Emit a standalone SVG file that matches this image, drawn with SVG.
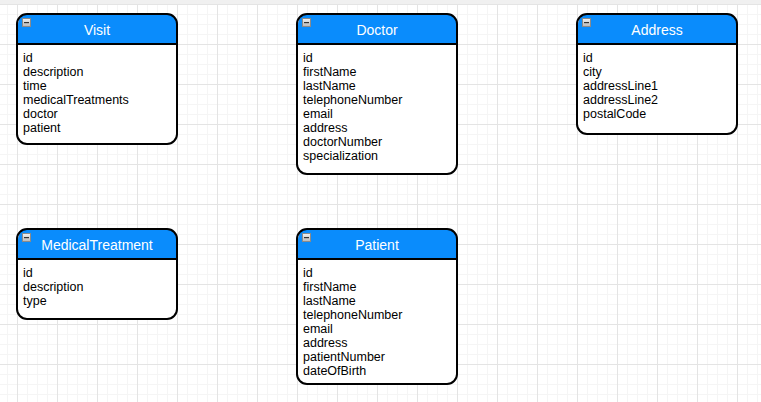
<svg xmlns="http://www.w3.org/2000/svg" width="761" height="402" viewBox="0 0 761 402">
<defs>
<pattern id="minor" x="7" y="4" width="10" height="10" patternUnits="userSpaceOnUse">
<path d="M0.5 0V10M0 0.5H10" stroke="#f5f5f5" stroke-width="1" fill="none"/>
</pattern>
<pattern id="major" x="17" y="4" width="40" height="40" patternUnits="userSpaceOnUse">
<path d="M0.5 0V40M0 0.5H40" stroke="#e4e4e4" stroke-width="1" fill="none"/>
</pattern>
<linearGradient id="btn" x1="0" y1="0" x2="0" y2="1">
<stop offset="0" stop-color="#f4f4f4"/>
<stop offset="1" stop-color="#b8b8b8"/>
</linearGradient>
<g id="minus">
<rect x="0.5" y="0.5" width="8" height="8" fill="url(#btn)" stroke="#8a8a8a" stroke-width="1"/>
<rect x="2" y="4" width="5" height="1.2" fill="#333"/>
</g>
</defs>
<style>
.box{fill:none;stroke:#000;stroke-width:2}
.hdr{fill:#0a8cfc}
.title{font-family:"Liberation Sans",Arial,sans-serif;font-size:14px;fill:#ffffff;text-anchor:middle}
.item{font-family:"Liberation Sans",Arial,sans-serif;font-size:12.5px;fill:#000}
.sep{stroke:#000;stroke-width:2}
</style>
<rect width="761" height="402" fill="#ffffff"/>
<rect width="761" height="402" fill="url(#minor)"/>
<rect width="761" height="402" fill="url(#major)"/>
<rect width="761" height="4" fill="#f0f0f0"/>
<g id="connectors"></g>

<g id="visit">
<rect x="17" y="14" width="160" height="130" rx="10" fill="#ffffff"/>
<path class="hdr" d="M18 44V24a10 10 0 0 1 10-10h139a10 10 0 0 1 10 10v20z"/>
<rect class="box" x="17" y="14" width="160" height="130" rx="10"/>
<line class="sep" x1="17" y1="44" x2="177" y2="44"/>
<use href="#minus" x="22" y="18"/>
<text class="title" x="97" y="35">Visit</text>
<text class="item" x="23" y="62">id</text>
<text class="item" x="23" y="76">description</text>
<text class="item" x="23" y="90">time</text>
<text class="item" x="23" y="104">medicalTreatments</text>
<text class="item" x="23" y="118">doctor</text>
<text class="item" x="23" y="132">patient</text>
</g>

<g id="doctor">
<rect x="297" y="14" width="160" height="160" rx="10" fill="#ffffff"/>
<path class="hdr" d="M298 44V24a10 10 0 0 1 10-10h139a10 10 0 0 1 10 10v20z"/>
<rect class="box" x="297" y="14" width="160" height="160" rx="10"/>
<line class="sep" x1="297" y1="44" x2="457" y2="44"/>
<use href="#minus" x="302" y="18"/>
<text class="title" x="377" y="35">Doctor</text>
<text class="item" x="303" y="62">id</text>
<text class="item" x="303" y="76">firstName</text>
<text class="item" x="303" y="90">lastName</text>
<text class="item" x="303" y="104">telephoneNumber</text>
<text class="item" x="303" y="118">email</text>
<text class="item" x="303" y="132">address</text>
<text class="item" x="303" y="146">doctorNumber</text>
<text class="item" x="303" y="160">specialization</text>
</g>

<g id="address">
<rect x="577" y="14" width="160" height="120" rx="10" fill="#ffffff"/>
<path class="hdr" d="M578 44V24a10 10 0 0 1 10-10h139a10 10 0 0 1 10 10v20z"/>
<rect class="box" x="577" y="14" width="160" height="120" rx="10"/>
<line class="sep" x1="577" y1="44" x2="737" y2="44"/>
<use href="#minus" x="582" y="18"/>
<text class="title" x="657" y="35">Address</text>
<text class="item" x="583" y="62">id</text>
<text class="item" x="583" y="76">city</text>
<text class="item" x="583" y="90">addressLine1</text>
<text class="item" x="583" y="104">addressLine2</text>
<text class="item" x="583" y="118">postalCode</text>
</g>

<g id="medicaltreatment">
<rect x="17" y="229" width="160" height="90" rx="10" fill="#ffffff"/>
<path class="hdr" d="M18 259V239a10 10 0 0 1 10-10h139a10 10 0 0 1 10 10v20z"/>
<rect class="box" x="17" y="229" width="160" height="90" rx="10"/>
<line class="sep" x1="17" y1="259" x2="177" y2="259"/>
<use href="#minus" x="22" y="233"/>
<text class="title" x="97" y="250">MedicalTreatment</text>
<text class="item" x="23" y="277">id</text>
<text class="item" x="23" y="291">description</text>
<text class="item" x="23" y="305">type</text>
</g>

<g id="patient">
<rect x="297" y="229" width="160" height="155" rx="10" fill="#ffffff"/>
<path class="hdr" d="M298 259V239a10 10 0 0 1 10-10h139a10 10 0 0 1 10 10v20z"/>
<rect class="box" x="297" y="229" width="160" height="155" rx="10"/>
<line class="sep" x1="297" y1="259" x2="457" y2="259"/>
<use href="#minus" x="302" y="233"/>
<text class="title" x="377" y="250">Patient</text>
<text class="item" x="303" y="277">id</text>
<text class="item" x="303" y="291">firstName</text>
<text class="item" x="303" y="305">lastName</text>
<text class="item" x="303" y="319">telephoneNumber</text>
<text class="item" x="303" y="333">email</text>
<text class="item" x="303" y="347">address</text>
<text class="item" x="303" y="361">patientNumber</text>
<text class="item" x="303" y="375">dateOfBirth</text>
</g>
</svg>
